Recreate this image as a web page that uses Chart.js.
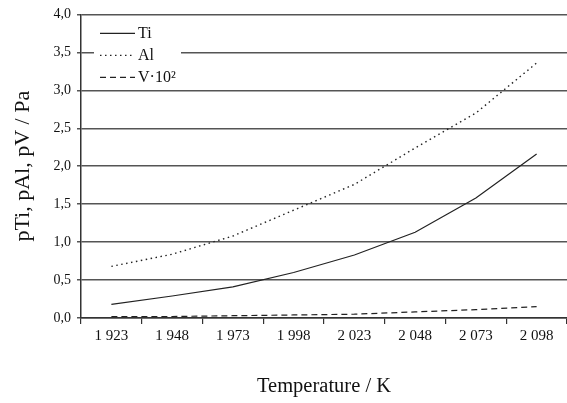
<!DOCTYPE html>
<html><head><meta charset="utf-8">
<script src="https://cdn.jsdelivr.net/npm/chart.js@4"></script>
<style>html,body{margin:0;padding:0;background:#fff;}#wrap{width:567px;height:403px;}</style>
</head><body><div id="wrap"><canvas id="c" width="567" height="403"></canvas></div>
<script>
const categories = ["1 923","1 948","1 973","1 998","2 023","2 048","2 073","2 098"];
const tiValues = [0.18,0.29,0.41,0.60,0.83,1.13,1.58,2.16];
const alValues = [0.68,0.84,1.08,1.42,1.76,2.24,2.70,3.36];
const vValues = [0.02,0.02,0.03,0.04,0.05,0.08,0.11,0.15];
const seriesLabels = ["Ti","Al","V·10²"];
const yTicks = [0,0.5,1,1.5,2,2.5,3,3.5,4];

const FONT = "'Liberation Serif','Times New Roman',serif";

const legendPlugin = {
  id: 'inLegend',
  afterDraw(chart) {
    const ctx = chart.ctx;
    const a = chart.chartArea;
    ctx.save();
    ctx.fillStyle = '#fff';
    ctx.fillRect(a.left + 13, a.top + 5, 87, 69);
    chart.data.datasets.forEach((ds, i) => {
      const y = a.top + 19 + i * 22;
      ctx.beginPath();
      ctx.setLineDash(ds.borderDash || []);
      ctx.strokeStyle = ds.borderColor;
      ctx.lineWidth = ds.borderWidth;
      ctx.moveTo(a.left + 19, y);
      ctx.lineTo(a.left + 54, y);
      ctx.stroke();
      ctx.setLineDash([]);
      ctx.fillStyle = '#111';
      ctx.font = '16px ' + FONT;
      ctx.textBaseline = 'middle';
      ctx.fillText(ds.label, a.left + 57, y);
    });
    ctx.restore();
  }
};

new Chart(document.getElementById('c'), {
  type: 'line',
  data: {
    labels: categories,
    datasets: [
      {label: seriesLabels[0], data: tiValues, borderColor: '#222', borderWidth: 1.2, pointRadius: 0, tension: 0},
      {label: seriesLabels[1], data: alValues, borderColor: '#222', borderWidth: 1.4, borderDash: [1.5, 3.5], pointRadius: 0, tension: 0},
      {label: seriesLabels[2], data: vValues, borderColor: '#222', borderWidth: 1.2, borderDash: [6, 4], pointRadius: 0, tension: 0}
    ]
  },
  options: {
    responsive: false,
    animation: false,
    devicePixelRatio: 1,
    layout: {padding: {left: 0, right: 0, top: 14, bottom: 0}},
    plugins: {legend: {display: false}, tooltip: {enabled: false}},
    scales: {
      x: {
        type: 'category',
        offset: true,
        grid: {offset: true, drawOnChartArea: false, drawTicks: true, tickLength: 6, color: '#333', lineWidth: 1.2},
        border: {color: '#333', width: 1.5},
        ticks: {color: '#111', font: {family: FONT, size: 15}, padding: 3, maxRotation: 0, autoSkip: false},
        title: {display: true, text: 'Temperature / K', color: '#111', font: {family: FONT, size: 20.5}, padding: {top: 0, bottom: 4}},
        afterFit(s) { s.height = 85; }
      },
      y: {
        min: 0, max: 4,
        afterBuildTicks(s) { s.ticks = yTicks.map(v => ({value: v})); },
        grid: {color: '#555', lineWidth: 1.5, tickLength: 4, drawTicks: true},
        border: {color: '#333', width: 1.5},
        ticks: {color: '#111', font: {family: FONT, size: 14}, padding: 6,
          callback: v => Number(v).toFixed(1).replace('.', ',')},
        title: {display: true, text: 'pTi, pAl, pV / Pa', color: '#111', font: {family: FONT, size: 22}, padding: {top: 10, bottom: 0}},
        afterFit(s) { s.width = 81; }
      }
    }
  },
  plugins: [legendPlugin]
});
</script></body></html>
